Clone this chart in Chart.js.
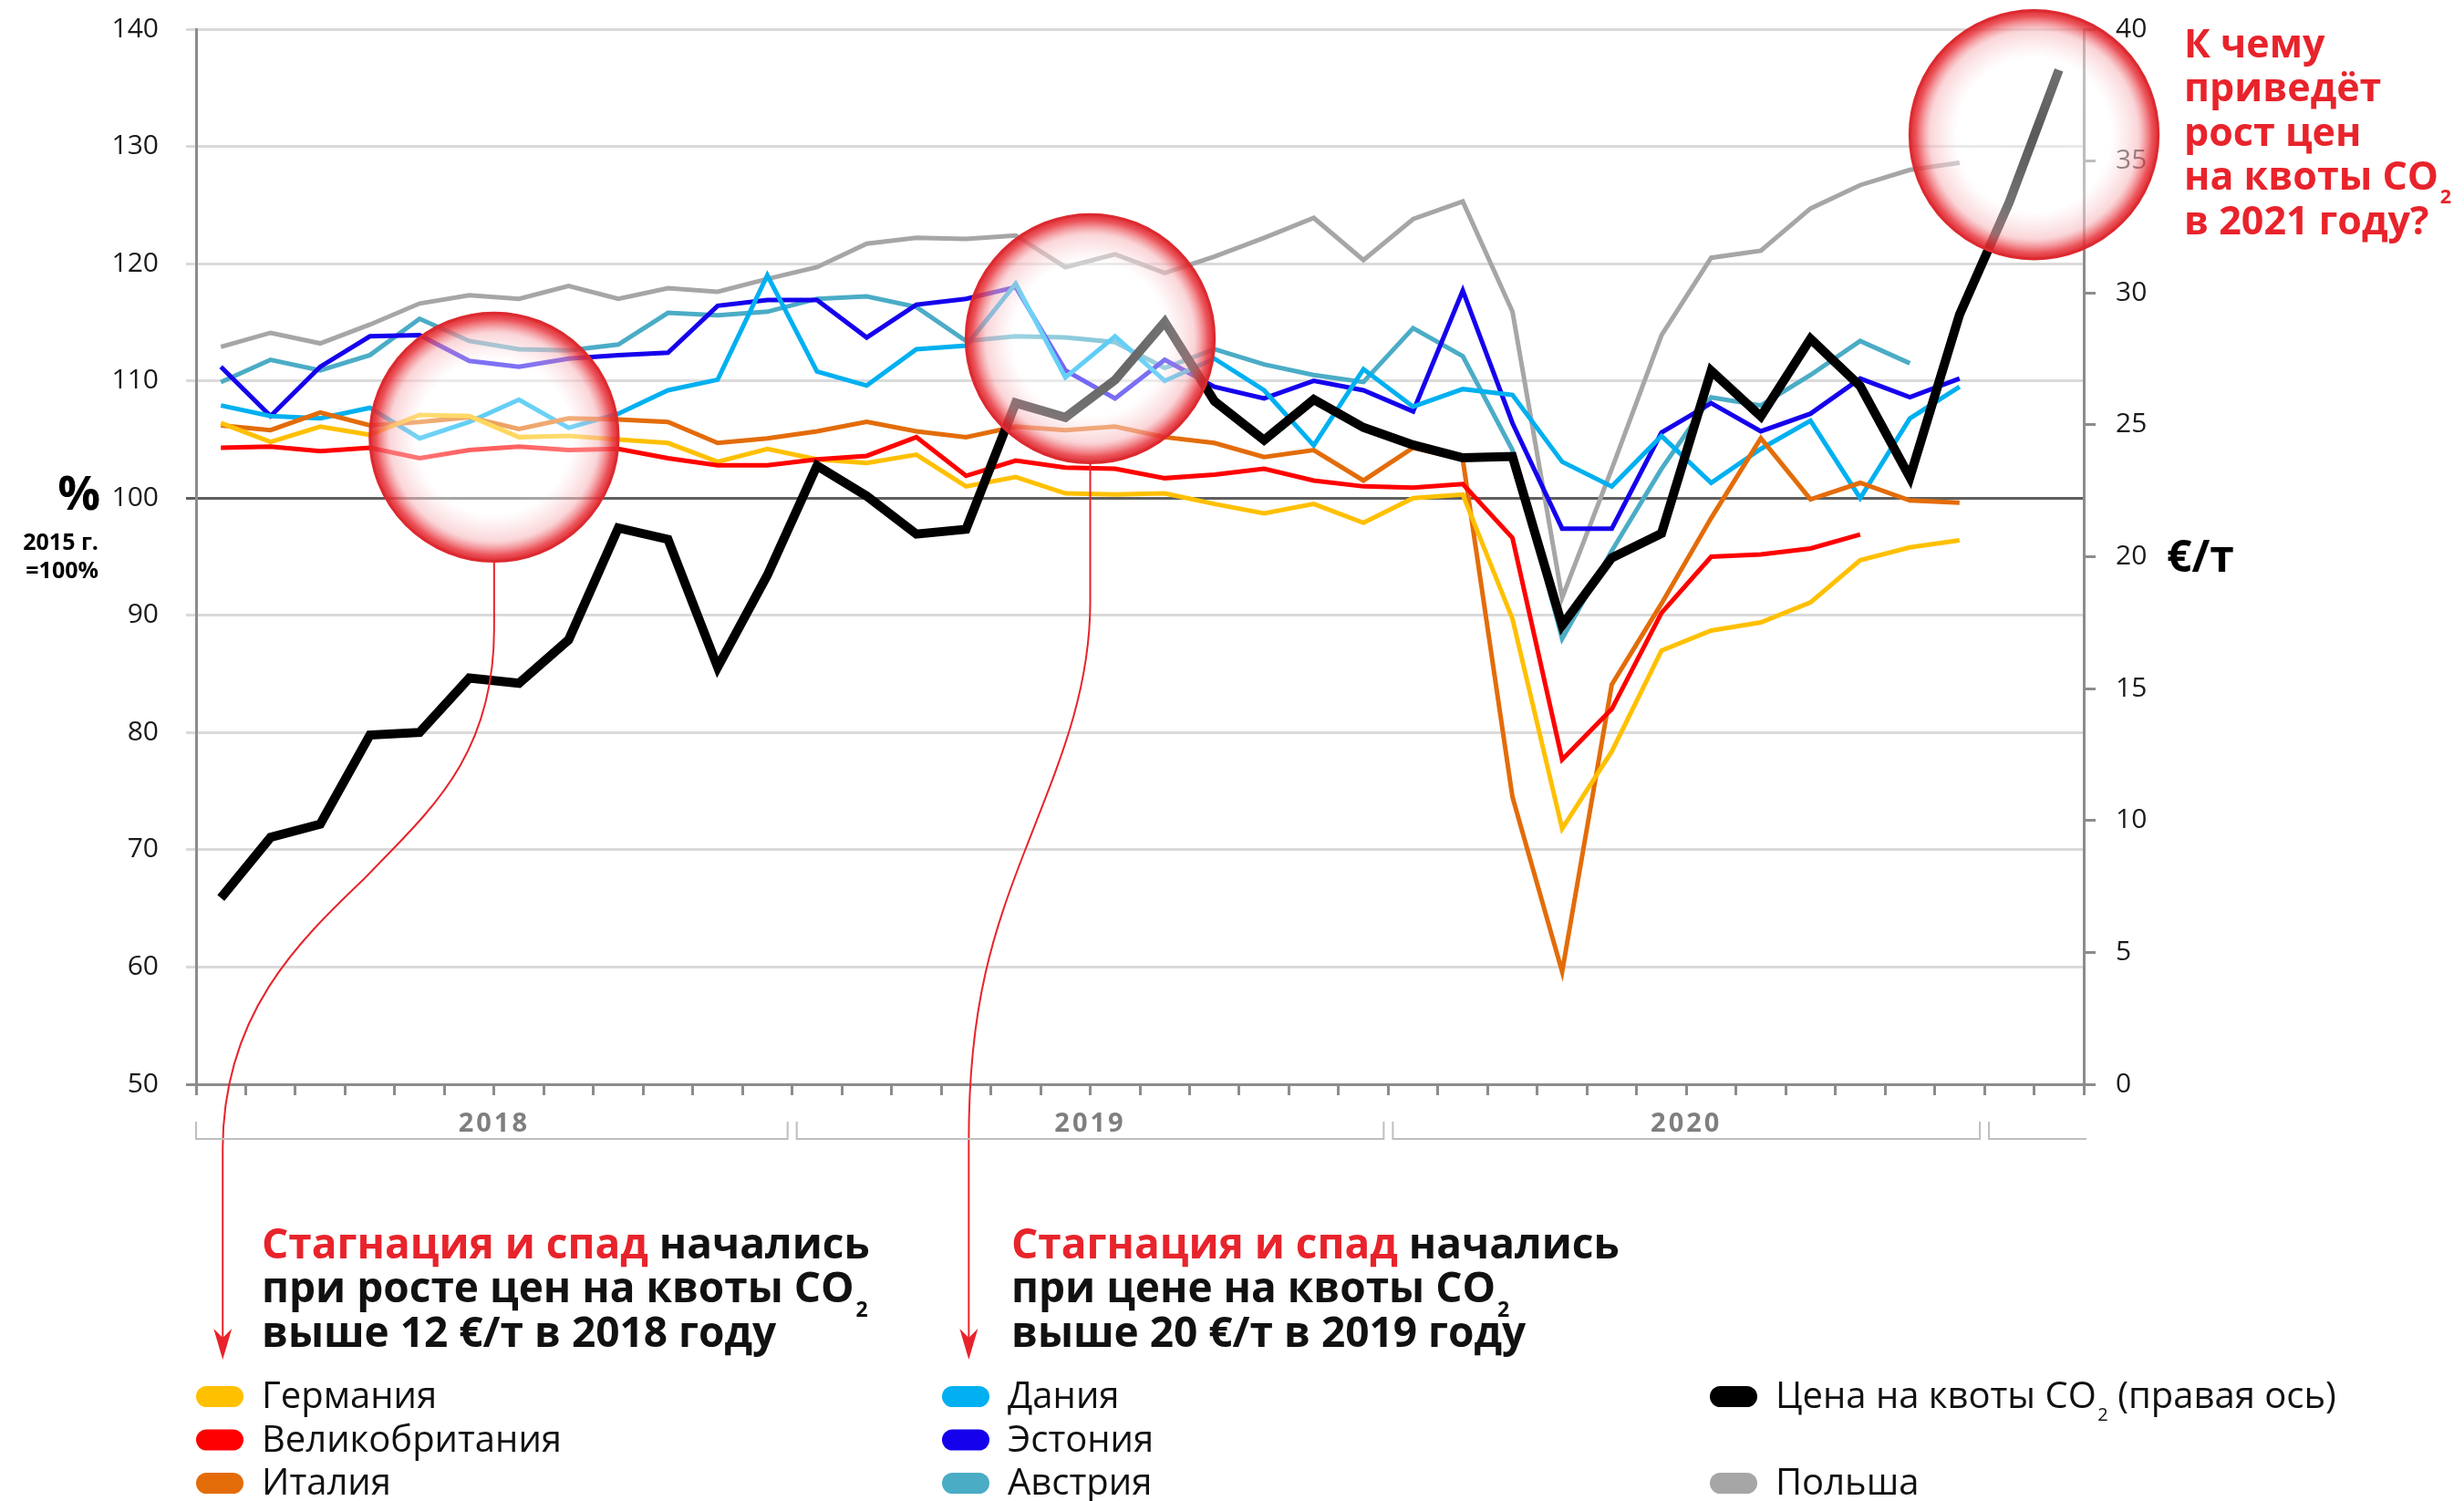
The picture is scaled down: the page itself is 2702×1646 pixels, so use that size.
<!DOCTYPE html>
<html>
<head>
<meta charset="utf-8">
<script src="https://cdn.jsdelivr.net/npm/chart.js@4.4.1/dist/chart.umd.min.js"></script>
<style>
  html, body { margin: 0; padding: 0; background: #fff; }
  #wrap { width: 2702px; height: 1646px; }
</style>
</head>
<body>
<div id="wrap"><canvas id="co2Chart" width="2702" height="1646"></canvas></div>
<script>
const months = ['01.2018', '02.2018', '03.2018', '04.2018', '05.2018', '06.2018', '07.2018', '08.2018', '09.2018', '10.2018', '11.2018', '12.2018',
  '01.2019', '02.2019', '03.2019', '04.2019', '05.2019', '06.2019', '07.2019', '08.2019', '09.2019', '10.2019', '11.2019', '12.2019',
  '01.2020', '02.2020', '03.2020', '04.2020', '05.2020', '06.2020', '07.2020', '08.2020', '09.2020', '10.2020', '11.2020', '12.2020',
  '01.2021', '02.2021'];
const yearLabels = ['2018', '2019', '2020', ''];

// % к 2015 г. (левая ось)
const germany = [106.4, 104.8, 106.1, 105.4, 107.1, 107.0, 105.2, 105.3, 105.0, 104.7, 103.1, 104.2, 103.3, 103.0, 103.7, 101.0, 101.8, 100.4, 100.3, 100.4, 99.5, 98.7, 99.5, 97.9, 100.0, 100.3, 89.7, 71.8, 78.4, 87.0, 88.7, 89.4, 91.1, 94.7, 95.8, 96.4];
const britain = [104.3, 104.4, 104.0, 104.3, 103.4, 104.1, 104.4, 104.1, 104.2, 103.4, 102.8, 102.8, 103.3, 103.6, 105.2, 101.9, 103.2, 102.6, 102.5, 101.7, 102.0, 102.5, 101.5, 101.0, 100.9, 101.2, 96.6, 77.7, 82.0, 90.2, 95.0, 95.2, 95.7, 96.9, null, null];
const italy = [106.2, 105.8, 107.3, 106.2, 106.5, 106.9, 105.9, 106.8, 106.7, 106.5, 104.7, 105.1, 105.7, 106.5, 105.7, 105.2, 106.1, 105.8, 106.1, 105.2, 104.7, 103.5, 104.1, 101.5, 104.3, 103.3, 74.5, 59.6, 84.1, 91.0, 98.3, 105.1, 99.9, 101.3, 99.8, 99.6];
const denmark = [107.9, 107.0, 106.8, 107.7, 105.1, 106.5, 108.4, 106.0, 107.2, 109.2, 110.1, 119.0, 110.8, 109.6, 112.7, 113.0, 118.3, 110.3, 113.8, 110.0, 111.9, 109.2, 104.5, 111.0, 107.8, 109.3, 108.8, 103.1, 101.0, 105.3, 101.3, 104.2, 106.6, 100.0, 106.8, 109.5];
const estonia = [111.2, 107.0, 111.2, 113.8, 113.9, 111.7, 111.2, 111.9, 112.2, 112.4, 116.4, 116.9, 116.9, 113.7, 116.5, 117.0, 118.0, 110.9, 108.5, 111.8, 109.5, 108.5, 110.0, 109.2, 107.4, 117.7, 106.4, 97.4, 97.4, 105.6, 108.1, 105.7, 107.2, 110.2, 108.6, 110.2];
const austria = [109.9, 111.8, 110.9, 112.2, 115.3, 113.4, 112.7, 112.6, 113.1, 115.8, 115.6, 115.9, 117.0, 117.2, 116.3, 113.4, 113.8, 113.7, 113.3, 111.1, 112.7, 111.4, 110.5, 109.9, 114.5, 112.1, 104.1, 88.0, 95.5, 102.5, 108.6, 107.9, 110.5, 113.4, 111.5, null];
const poland = [112.9, 114.1, 113.2, 114.8, 116.6, 117.3, 117.0, 118.1, 117.0, 117.9, 117.6, 118.7, 119.7, 121.7, 122.2, 122.1, 122.4, 119.7, 120.8, 119.2, 120.6, 122.2, 123.9, 120.3, 123.8, 125.3, 115.9, 91.5, 102.5, 113.9, 120.5, 121.1, 124.7, 126.7, 128.0, 128.6];
// €/т (правая ось)
const co2Price = [7.06, 9.36, 9.86, 13.24, 13.34, 15.40, 15.20, 16.85, 21.09, 20.66, 15.81, 19.3, 23.45, 22.3, 20.86, 21.04, 25.83, 25.28, 26.7, 28.9, 25.9, 24.42, 25.96, 24.9, 24.24, 23.75, 23.8, 17.4, 19.96, 20.88, 27.05, 25.32, 28.26, 26.47, 23.01, 29.18, 33.44, 38.45];

const RED = '#e8232b';
const FONT = "'Open Sans', sans-serif";

function drawRuns(ctx, x, y, runs, size, weight) {
  runs.forEach(function (r) {
    const s = r.sub ? size * 0.5 : size;
    ctx.font = weight + ' ' + s + 'px ' + FONT;
    ctx.fillStyle = r.color || '#111';
    const dx = r.sub ? size * 0.04 : 0;
    ctx.fillText(r.text, x + dx, r.sub ? y + size * 0.34 : y);
    x += ctx.measureText(r.text).width + dx;
  });
}

function coRuns(text, color) {
  // split "CO2" so the 2 can be drawn as subscript
  const parts = text.split('CO2');
  const runs = [];
  parts.forEach(function (p, i) {
    if (i > 0) {
      runs.push({ text: 'CO', color: color });
      runs.push({ text: '2', color: color, sub: true });
    }
    if (p) runs.push({ text: p, color: color });
  });
  return runs;
}

function bubble(ctx, cx, cy, r) {
  const g = ctx.createRadialGradient(cx, cy, 0, cx, cy, r);
  g.addColorStop(0, 'rgba(255,255,255,0.35)');
  g.addColorStop(0.62, 'rgba(255,255,255,0.45)');
  g.addColorStop(0.84, 'rgba(247,185,190,0.6)');
  g.addColorStop(0.95, 'rgba(232,55,62,0.85)');
  g.addColorStop(1, 'rgba(220,32,40,0.95)');
  ctx.beginPath();
  ctx.arc(cx, cy, r, 0, Math.PI * 2);
  ctx.fillStyle = g;
  ctx.fill();
  ctx.lineWidth = 3;
  ctx.strokeStyle = '#dc2a30';
  ctx.stroke();
}

function arrowHead(ctx, x, y) {
  ctx.beginPath();
  ctx.moveTo(x, y);
  ctx.lineTo(x - 10, y - 34);
  ctx.lineTo(x, y - 24);
  ctx.lineTo(x + 10, y - 34);
  ctx.closePath();
  ctx.fillStyle = RED;
  ctx.fill();
}

const decorPlugin = {
  id: 'decor',
  afterDatasetsDraw(chart) {
    const ctx = chart.ctx;
    const x = chart.scales.x, y = chart.scales.y;
    const step = x.getPixelForValue(1) - x.getPixelForValue(0);
    const r = step * 2.5;
    ctx.save();
    bubble(ctx, (x.getPixelForValue(5) + x.getPixelForValue(6)) / 2, y.getPixelForValue(105.2), r);
    bubble(ctx, (x.getPixelForValue(17) + x.getPixelForValue(18)) / 2, y.getPixelForValue(113.6), r);
    bubble(ctx, (x.getPixelForValue(36) + x.getPixelForValue(37)) / 2, y.getPixelForValue(131), r);
    ctx.restore();
  },
  afterDraw(chart) {
    const ctx = chart.ctx;
    const area = chart.chartArea;
    const x = chart.scales.x, y = chart.scales.y;
    const step = x.getPixelForValue(1) - x.getPixelForValue(0);
    const r = step * 2.5;
    ctx.save();

    // arrows from the bubbles
    const c1x = (x.getPixelForValue(5) + x.getPixelForValue(6)) / 2, c1y = y.getPixelForValue(105.2) + r;
    const a1 = x.getPixelForValue(0) + 2;
    ctx.strokeStyle = RED;
    ctx.lineWidth = 2;
    ctx.beginPath();
    ctx.moveTo(c1x, c1y);
    ctx.lineTo(c1x, 690);
    ctx.bezierCurveTo(c1x, 830, 470, 890, 402, 961);
    ctx.bezierCurveTo(330, 1030, a1, 1110, a1, 1260);
    ctx.lineTo(a1, 1470);
    ctx.stroke();
    arrowHead(ctx, a1, 1491);

    const c2x = (x.getPixelForValue(17) + x.getPixelForValue(18)) / 2, c2y = y.getPixelForValue(113.6) + r;
    const a2 = x.getPixelForValue(15) + 3;
    ctx.beginPath();
    ctx.moveTo(c2x, c2y);
    ctx.lineTo(c2x, 660);
    ctx.bezierCurveTo(c2x, 760, 1160, 840, 1125, 930);
    ctx.bezierCurveTo(1090, 1020, a2, 1100, a2, 1250);
    ctx.lineTo(a2, 1470);
    ctx.stroke();
    arrowHead(ctx, a2, 1491);

    // year brackets
    ctx.strokeStyle = '#bfbfbf';
    ctx.lineWidth = 2;
    ctx.textAlign = 'center';
    ctx.textBaseline = 'alphabetic';
    for (let k = 0; k < 4; k++) {
      const l = area.left + 12 * k * step + (k === 0 ? 0 : 5);
      const rEnd = Math.min(area.left + 12 * (k + 1) * step - 5, area.right + 3);
      ctx.beginPath();
      ctx.moveTo(l, 1230);
      ctx.lineTo(l, 1249);
      ctx.lineTo(rEnd, 1249);
      if (k < 3) ctx.lineTo(rEnd, 1230);
      ctx.stroke();
      if (yearLabels[k]) {
        ctx.font = 'bold 29px ' + FONT;
        ctx.fillStyle = '#7f7f7f';
        ctx.letterSpacing = '3px';
        ctx.fillText(yearLabels[k], area.left + (12 * k + 6) * step, 1241);
        ctx.letterSpacing = '0px';
      }
    }

    // axis titles
    ctx.fillStyle = '#000';
    ctx.textAlign = 'right';
    ctx.font = 'bold 52px ' + FONT;
    ctx.fillText('%', 110, 559);
    ctx.font = 'bold 25px ' + FONT;
    ctx.fillText('2015 г.', 108, 603);
    ctx.fillText('=100%', 108, 634);
    ctx.textAlign = 'left';
    ctx.font = 'bold 48px ' + FONT;
    ctx.fillText('€/т', 2376, 627);

    // question at the top right
    const q = ['К чему', 'приведёт', 'рост цен', 'на квоты CO2', 'в 2021 году?'];
    q.forEach(function (line, i) {
      drawRuns(ctx, 2395, 63 + i * 48.4, coRuns(line, RED), 43, 700);
    });

    // notes under the axis
    const notes = [
      { x: 287, lines: [[{ text: 'Стагнация и спад ', color: RED }, { text: 'начались', color: '#111' }],
        coRuns('при росте цен на квоты CO2', '#111'), coRuns('выше 12 €/т в 2018 году', '#111')] },
      { x: 1109, lines: [[{ text: 'Стагнация и спад ', color: RED }, { text: 'начались', color: '#111' }],
        coRuns('при цене на квоты CO2', '#111'), coRuns('выше 20 €/т в 2019 году', '#111')] }
    ];
    notes.forEach(function (n) {
      n.lines.forEach(function (runs, i) {
        drawRuns(ctx, n.x, 1380 + i * 48.4, runs, 46, 700);
      });
    });

    // legend in three columns
    const colX = [215, 1033, 1875];
    const rowY = [1544, 1591.5, 1639];
    chart.data.datasets.forEach(function (ds) {
      const sx = colX[ds.legendCol], by = rowY[ds.legendRow];
      ctx.beginPath();
      ctx.roundRect(sx, by - 24, 52, 23, 11.5);
      ctx.fillStyle = ds.borderColor;
      ctx.fill();
      drawRuns(ctx, sx + 72, by, coRuns(ds.label, '#111'), 40, 400);
    });
    ctx.restore();
  }
};

function line(label, data, color, order, col, row) {
  return {
    label: label, data: data, borderColor: color, backgroundColor: color,
    borderWidth: 5, pointRadius: 0, tension: 0, order: order, yAxisID: 'y',
    borderJoinStyle: 'miter', legendCol: col, legendRow: row
  };
}

const datasets = [
  {
    label: 'Цена на квоты CO2 (правая ось)', data: co2Price, borderColor: '#000', backgroundColor: '#000',
    borderWidth: 10, pointRadius: 0, tension: 0, order: 0, yAxisID: 'y1',
    borderJoinStyle: 'miter', legendCol: 2, legendRow: 0
  },
  line('Великобритания', britain, '#ff0000', 1, 0, 1),
  line('Германия', germany, '#ffc000', 2, 0, 0),
  line('Италия', italy, '#e36c09', 3, 0, 2),
  line('Дания', denmark, '#00b0f0', 4, 1, 0),
  line('Эстония', estonia, '#1500ec', 5, 1, 1),
  line('Австрия', austria, '#4bacc6', 6, 1, 2),
  line('Польша', poland, '#a6a6a6', 7, 2, 2)
];

const ctx = document.getElementById('co2Chart');

new Chart(ctx, {
  type: 'line',
  data: { labels: months, datasets: datasets },
  options: {
    responsive: false,
    animation: false,
    devicePixelRatio: 1,
    layout: { autoPadding: false, padding: { top: 32, left: 0, right: 0, bottom: 0 } },
    plugins: { legend: { display: false }, tooltip: { enabled: false } },
    scales: {
      x: {
        type: 'category',
        offset: true,
        ticks: { display: false },
        grid: { drawOnChartArea: false, offset: true, drawTicks: true, tickLength: 12, color: '#8c8c8c', lineWidth: 3 },
        border: { display: true, color: '#8c8c8c', width: 3 },
        afterFit: function (s) { s.height = 457; s.paddingLeft = 0; s.paddingRight = 0; }
      },
      y: {
        position: 'left',
        min: 50, max: 140,
        ticks: { stepSize: 10, padding: 30, color: '#1a1a1a', font: { family: FONT, size: 30 } },
        grid: {
          tickLength: 11, lineWidth: 3,
          color: function (c) {
            if (c.tick && c.tick.value === 100) return '#5f5f5f';
            if (c.tick && c.tick.value === 50) return '#8c8c8c';
            return '#dadada';
          }
        },
        border: { display: true, color: '#8c8c8c', width: 3 },
        afterFit: function (s) { s.width = 215; s.paddingTop = 0; s.paddingBottom = 0; }
      },
      y1: {
        position: 'right',
        min: 0, max: 40,
        ticks: { stepSize: 5, padding: 22, color: '#1a1a1a', font: { family: FONT, size: 30 } },
        grid: { drawOnChartArea: false, tickLength: 13, color: '#8c8c8c', lineWidth: 3 },
        border: { display: true, color: '#8c8c8c', width: 3 },
        afterFit: function (s) { s.width = 417; s.paddingTop = 0; s.paddingBottom = 0; }
      }
    }
  },
  plugins: [decorPlugin]
});
</script>
</body>
</html>
